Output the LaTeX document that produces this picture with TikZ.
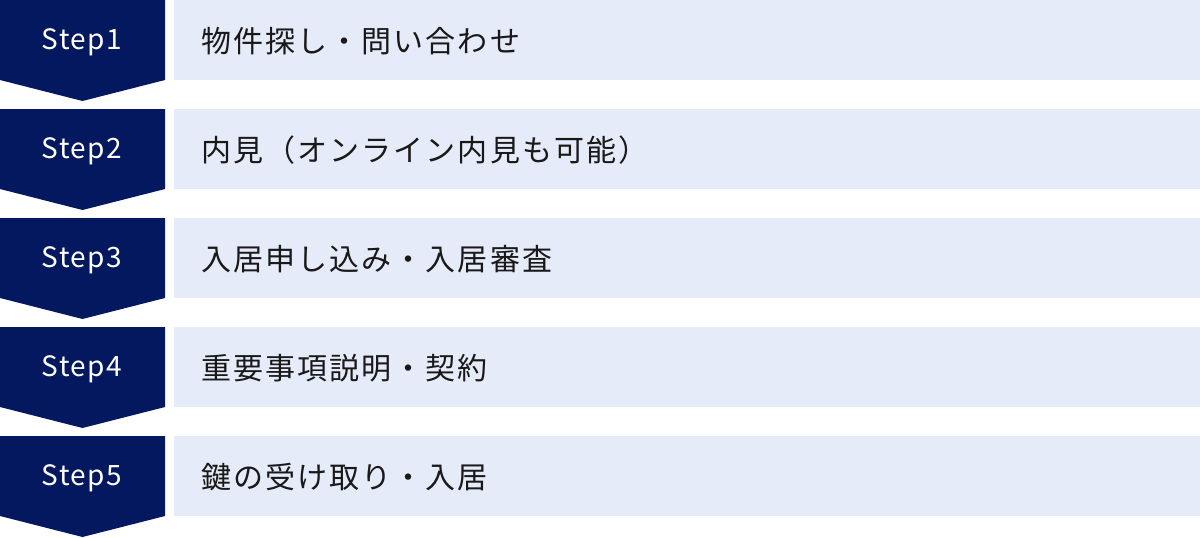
\documentclass[tikz,border=0pt]{standalone}
\usepackage{fontspec}
\newfontfamily\jpfontsp[LetterSpace=7]{Noto Sans CJK JP}
\newfontfamily\stepfont[LetterSpace=5]{Noto Sans CJK JP}
\definecolor{navy}{RGB}{4,24,96}
\definecolor{pale}{RGB}{229,235,248}
\definecolor{ink}{RGB}{25,25,25}
\begin{document}
\begin{tikzpicture}[x=1pt,y=-1pt,
  stepshape/.style={fill=navy,draw=none},
  itembox/.style={fill=pale,draw=none},
  steplabel/.style={text=white,font=\stepfont\fontsize{28}{32}\selectfont,anchor=center},
  itemlabel/.style={text=ink,font=\jpfontsp\fontsize{30}{34}\selectfont,anchor=west,inner sep=0pt}]
\useasboundingbox (0,0) rectangle (1200,538);
\foreach \i/\lab/\txt in {0/1/物件探し・問い合わせ,1/2/内見（オンライン内見も可能）,2/3/入居申し込み・入居審査,3/4/重要事項説明・契約,4/5/鍵の受け取り・入居}{
  \pgfmathsetmacro{\yy}{109*\i}
  \fill[stepshape] (0,\yy) -- (165,\yy) -- (165,\yy+80) -- (82.5,\yy+101) -- (0,\yy+80) -- cycle;
  \fill[itembox] (174,\yy) rectangle (1200,\yy+80);
  \node[steplabel] (s\lab) at (82,\yy+42.5) {Step\lab};
  \node[itemlabel] (t\lab) at (201,\yy+41) {\txt};
}
\end{tikzpicture}
\end{document}
